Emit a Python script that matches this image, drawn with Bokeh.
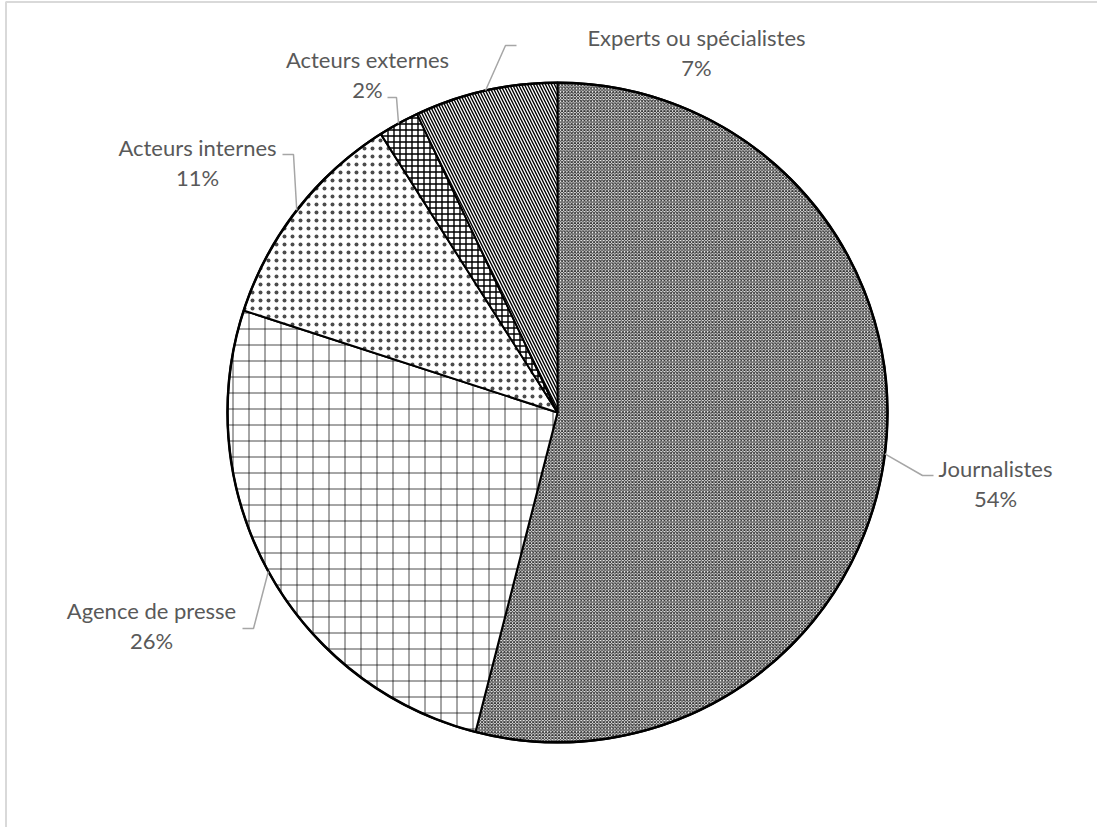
import numpy as np
from bokeh.plotting import figure
from bokeh.models import Range1d, ColumnDataSource
from bokeh.core.properties import value
from bokeh.embed import file_html
from bokeh.resources import INLINE

# ---- data ----
categories = ["Journalistes", "Agence de presse", "Acteurs internes", "Acteurs externes", "Experts ou spécialistes"]
shares = [54, 26, 11, 2, 7]
pct_labels = [f"{v}%" for v in shares]

# ---- styles ----
hatch_patterns = ["x", "+", ".", "+", "\\"]
hatch_scales = [3.2, 16, 8, 6, 6]
hatch_weights = [1.0, 1.0, 0.5, 1.4, 1.4]
hatch_alphas = [0.8, 0.7, 0.7, 1.0, 1.0]

# ---- layout (pixel positions, image coords y down) ----
W, H = 1097, 827
CX, CY, R = 557, 412, 330
label_pos = [(995, 483), (151, 625), (197, 162), (367, 74), (696, 52)]
leader_elbow = [(922, 475), (253, 628), (293, 154), (396, 97), (505, 45)]
leader_end = [(933, 475), (242, 628), (282, 154), (387, 97), (516, 45)]


def Y(y):
    return H - y


vals = np.array(shares, dtype=float)
frac = vals / vals.sum()
cum_end = np.cumsum(frac)
cum_start = cum_end - frac
start_angle = np.pi / 2 - 2 * np.pi * cum_end
end_angle = np.pi / 2 - 2 * np.pi * cum_start
mid = (cum_start + cum_end) / 2

p = figure(width=W, height=H, x_range=Range1d(0, W), y_range=Range1d(0, H),
           x_axis_type=None, y_axis_type=None, toolbar_location=None,
           output_backend="svg", min_border=0, outline_line_color=None,
           background_fill_color="white", border_fill_color="white")
p.grid.visible = False

# chart frame
p.quad(left=[5.5], right=[W + 5], top=[Y(1.5)], bottom=[-5], fill_color=None,
       line_color="#d9d9d9", line_width=2)

for i in range(len(shares)):
    p.wedge(x=CX, y=Y(CY), radius=R, start_angle=start_angle[i], end_angle=end_angle[i],
            direction="anticlock", fill_color="white", line_color="black", line_width=2,
            hatch_pattern=hatch_patterns[i], hatch_scale=hatch_scales[i],
            hatch_weight=hatch_weights[i], hatch_color="black", hatch_alpha=hatch_alphas[i])

# outer circle slightly heavier
p.circle(x=[CX], y=[Y(CY)], radius=R, fill_color=None, line_color="black", line_width=2.5)

# leader lines
for i in range(len(shares)):
    ang = 2 * np.pi * mid[i]
    sx = CX + R * np.sin(ang)
    sy = CY - R * np.cos(ang)
    xs = [sx, leader_elbow[i][0], leader_end[i][0]]
    ys = [Y(sy), Y(leader_elbow[i][1]), Y(leader_end[i][1])]
    p.line(xs, ys, line_color="#a6a6a6", line_width=1.5)

src = ColumnDataSource(dict(
    x=[lp[0] for lp in label_pos],
    y1=[Y(lp[1] - 15) for lp in label_pos],
    y2=[Y(lp[1] + 15) for lp in label_pos],
    name=categories, pct=pct_labels))

common = dict(text_font=value("Lato"), text_font_size="22px", text_color="#595959",
              text_align="center", text_baseline="middle")
p.text(x="x", y="y1", text="name", source=src, **common)
p.text(x="x", y="y2", text="pct", source=src, **common)

open("out.html", "w").write(file_html(p, INLINE))
